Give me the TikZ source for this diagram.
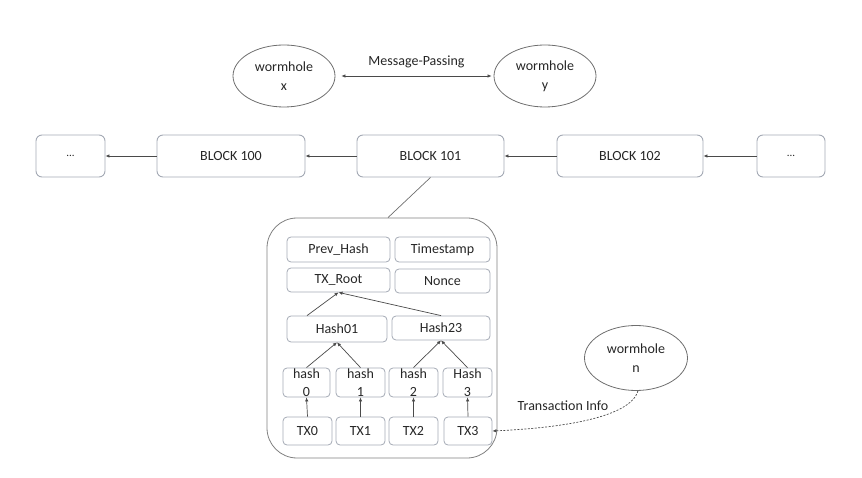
\documentclass[tikz,border=0pt]{standalone}
\usepackage{fontspec}
\setmainfont{Carlito}
\usetikzlibrary{arrows.meta,shapes.geometric}

\definecolor{boxgray}{HTML}{A3A9B4}
\definecolor{txtgray}{HTML}{262626}
\definecolor{linegray}{HTML}{4A4A4A}

\tikzset{
  blockbox/.style={draw=boxgray, rounded corners=6pt, line width=0.9pt, minimum height=42pt, inner sep=0pt, text=txtgray},
  fieldbox/.style={draw=boxgray, rounded corners=4pt, line width=0.8pt, inner sep=0pt, align=center, text=txtgray},
  hole/.style={draw=linegray!80, ellipse, line width=0.8pt, minimum width=102pt, minimum height=62pt, inner sep=0pt, align=center, text=txtgray, font=\fontsize{14}{19}\selectfont},
  link/.style={draw=linegray, line width=0.7pt, -{Latex[length=4pt,width=3.5pt]}},
}

\begin{document}
\begin{tikzpicture}[x=1pt, y=-1pt, font=\fontsize{14}{18}\selectfont]

\useasboundingbox (0,0) rectangle (862,478);

\node[hole] (wx) at (284,76) {wormhole\\x};
\node[hole] (wy) at (545,76) {wormhole\\y};
\draw[link, {Latex[length=4pt,width=3.5pt]}-{Latex[length=4pt,width=3.5pt]}] ([xshift=6pt]wx.east) -- ([xshift=-2pt]wy.west) node[midway, above=4pt, text=txtgray] (msg) {Message-Passing};

\node[blockbox, minimum width=69pt, font=\fontsize{11}{13}\selectfont] (dots1) at (70.5,156) {...};
\node[blockbox, minimum width=148pt] (b100) at (231,156) {BLOCK 100};
\node[blockbox, minimum width=147pt] (b101) at (430.5,156) {BLOCK 101};
\node[blockbox, minimum width=146pt] (b102) at (630,156) {BLOCK 102};
\node[blockbox, minimum width=68pt, font=\fontsize{11}{13}\selectfont] (dots2) at (791,156) {...};

\draw[link] (b100.west) -- (dots1.east);
\draw[link] (b101.west) -- (b100.east);
\draw[link] (b102.west) -- (b101.east);
\draw[link] (dots2.west) -- (b102.east);

\node[draw=linegray!70, rounded corners=30pt, line width=0.8pt, minimum width=230pt, minimum height=240pt] (blk) at (382,338) {};
\draw[linegray!80, line width=0.7pt] (b101.south) -- ([xshift=6pt]blk.north);

\node[fieldbox, minimum width=103pt, minimum height=25pt] (prev) at (338.5,249.5) {Prev\_Hash};
\node[fieldbox, minimum width=95pt, minimum height=25pt] (time) at (442.5,249.5) {Timestamp};
\node[fieldbox, minimum width=103pt, minimum height=24pt] (root) at (338.5,280) {TX\_Root};
\node[fieldbox, minimum width=95pt, minimum height=24pt] (nonce) at (442.5,281) {Nonce};
\node[fieldbox, minimum width=100pt, minimum height=26pt] (h01) at (337,329) {Hash01};
\node[fieldbox, minimum width=98pt, minimum height=24pt] (h23) at (441,328) {Hash23};

\node[fieldbox, minimum width=47pt, minimum height=29pt] (hash0) at (306.5,382.5) {hash\\0};
\node[fieldbox, minimum width=49pt, minimum height=29pt] (hash1) at (360.5,382.5) {hash\\1};
\node[fieldbox, minimum width=49pt, minimum height=29pt] (hash2) at (413.5,382.5) {hash\\2};
\node[fieldbox, minimum width=49pt, minimum height=29pt] (hash3) at (467.5,382.5) {Hash\\3};

\node[fieldbox, minimum width=49pt, minimum height=28pt] (tx0) at (307.5,431) {TX0};
\node[fieldbox, minimum width=49pt, minimum height=28pt] (tx1) at (360.5,431) {TX1};
\node[fieldbox, minimum width=49pt, minimum height=28pt] (tx2) at (413.5,431) {TX2};
\node[fieldbox, minimum width=48pt, minimum height=28pt] (tx3) at (468,431) {TX3};

\draw[link] (tx0.north) -- (hash0.south);
\draw[link] (tx1.north) -- (hash1.south);
\draw[link] (tx2.north) -- (hash2.south);
\draw[link] (tx3.north) -- (hash3.south);

\draw[link] (hash0.north) -- (h01.south);
\draw[link] (hash1.north) -- (h01.south);
\draw[link] (hash2.north) -- (h23.south);
\draw[link] (hash3.north) -- (h23.south);

\draw[link] ([xshift=-30pt]h01.north) -- (root.south);
\draw[link] (h23.north) -- (root.south);

\node[hole, minimum width=103pt, minimum height=65pt] (wn) at (636,358) {wormhole\\n};
\draw[link, dashed, dash pattern=on 2pt off 1.5pt] ([xshift=2pt]wn.south) .. controls (630,418) and (560,428) .. (tx3.east);
\node[text=txtgray] (info) at (563,406) {Transaction Info};

\end{tikzpicture}
\end{document}
